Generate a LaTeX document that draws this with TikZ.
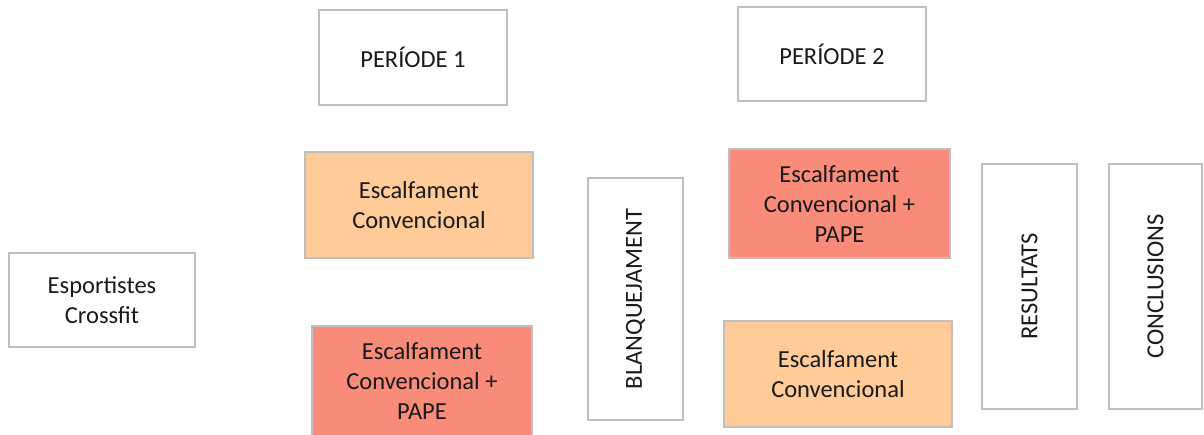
\documentclass[tikz,border=0pt]{standalone}
\usepackage{fontspec}
\setmainfont{Carlito}
\definecolor{edge}{HTML}{BFBFBF}
\definecolor{warm}{HTML}{FFCC99}
\definecolor{hot}{HTML}{F88B79}
\definecolor{ink}{HTML}{1A1A1A}
\begin{document}
\begin{tikzpicture}[x=1pt,y=-1pt,
  box/.style={draw=edge, line width=1.4pt, fill=white, align=center, text=ink,
    inner sep=0pt, font=\fontsize{24.5}{30}\selectfont},
  warmbox/.style={box, fill=warm},
  hotbox/.style={box, fill=hot},
  tallbox/.style={box, rotate=90}]
\useasboundingbox (0,0) rectangle (1204,434);
% periods
\node[box, minimum width=188pt, minimum height=95pt] (p1) at (413,57.5) {PERÍODE 1};
\node[box, minimum width=188pt, minimum height=94pt] (p2) at (832,54) {PERÍODE 2};
% participants
\node[box, minimum width=186pt, minimum height=94pt] (esp) at (102,300) {Esportistes\\Crossfit};
% period 1 groups
\node[warmbox, minimum width=228pt, minimum height=106pt] (ec1) at (419,205) {Escalfament\\Convencional};
\node[hotbox, minimum width=220pt, minimum height=110pt] (pape1) at (422,381) {Escalfament\\Convencional +\\PAPE};
% washout
\node[tallbox, minimum width=242pt, minimum height=95pt] (blanq) at (635.5,299) {BLANQUEJAMENT};
% period 2 groups
\node[hotbox, minimum width=221pt, minimum height=109pt] (pape2) at (839.5,203.5) {Escalfament\\Convencional +\\PAPE};
\node[warmbox, minimum width=228pt, minimum height=106pt] (ec2) at (838,374) {Escalfament\\Convencional};
% outcome
\node[tallbox, minimum width=245pt, minimum height=95pt] (res) at (1029.5,286.5) {RESULTATS};
\node[tallbox, minimum width=245pt, minimum height=93pt] (conc) at (1155.5,286.5) {CONCLUSIONS};
\end{tikzpicture}
\end{document}
